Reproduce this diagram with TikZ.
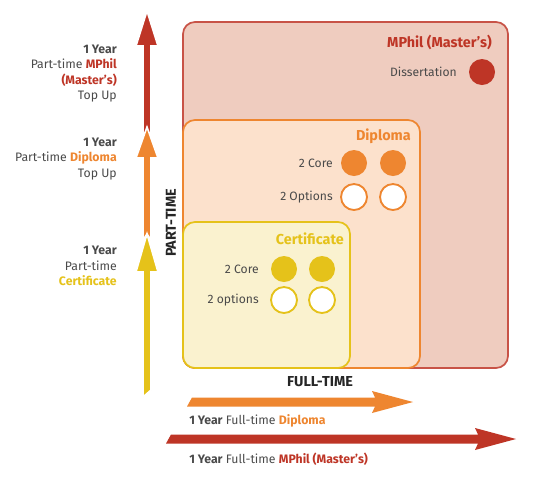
\documentclass[tikz,border=0pt]{standalone}
\usepackage{fontspec}
\setmainfont{Fira Sans}
\begin{document}
\begin{tikzpicture}[x=0.75pt,y=-0.75pt,
  txt/.style={font=\fontsize{9.1}{11}\selectfont, text=greytxt, inner sep=0pt},
  ttl/.style={font=\fontsize{10.8}{12}\selectfont\bfseries, inner sep=0pt},
  axis/.style={font=\fontsize{10.8}{12}\selectfont\bfseries, text=black!85, inner sep=0pt},
  ltxt/.style={txt, anchor=east, align=right, font=\fontsize{9.2}{11.6}\selectfont},
  dot/.style={circle, minimum size=19.5pt, inner sep=0pt, line width=1.4pt},
  arr/.style={draw=white, line width=1.2pt, line join=miter},
]
\definecolor{greytxt}{HTML}{4A4A4A}
\definecolor{cred}{HTML}{BE3526}
\definecolor{corange}{HTML}{EE8630}
\definecolor{cyellow}{HTML}{E5C21A}
\definecolor{fred}{HTML}{EFCCBF}
\definecolor{forange}{HTML}{FCE1CC}
\definecolor{fyellow}{HTML}{FAF2CF}
\useasboundingbox[fill=white] (0,0) rectangle (538,480);

% boxes
\draw[fill=fred, draw=cred!85, line width=1.3pt, rounded corners=9pt] (183,22) rectangle (508,368);
\draw[fill=forange, draw=corange, line width=1.3pt, rounded corners=9pt] (183,120) rectangle (420,368);
\draw[fill=fyellow, draw=cyellow, line width=1.3pt, rounded corners=9pt] (183,222) rectangle (350,368);

% MPhil content
\node[ttl, text=cred, anchor=east] (mphilt) at (492,42) {MPhil (Master’s)};
\node[txt, anchor=east] (diss) at (457,72) {Dissertation};
\node[dot, fill=cred] (dd) at (482,72) {};

% Diploma content
\node[ttl, text=corange, anchor=east] (diplt) at (411,136) {Diploma};
\node[txt, anchor=east] (dcore) at (333,163) {2 Core};
\node[dot, fill=corange] (dc1) at (354,163) {};
\node[dot, fill=corange] (dc2) at (393,163) {};
\node[txt, anchor=east] (dopt) at (333,197) {2 Options};
\node[dot, fill=white, draw=corange] (do1) at (354,197) {};
\node[dot, fill=white, draw=corange] (do2) at (393,197) {};

% Certificate content
\node[ttl, text=cyellow, anchor=east] (certt) at (344,239) {Certificate};
\node[txt, anchor=east] (ccore) at (259,269) {2 Core};
\node[dot, fill=cyellow] (cc1) at (284,269) {};
\node[dot, fill=cyellow] (cc2) at (322,269) {};
\node[txt, anchor=east] (copt) at (259,300) {2 options};
\node[dot, fill=white, draw=cyellow] (co1) at (284,300) {};
\node[dot, fill=white, draw=cyellow] (co2) at (322,300) {};

% axis labels
\node[axis, rotate=90] (pt) at (171,223) {PART-TIME};
\node[axis] (ft) at (320,382) {FULL-TIME};

% vertical arrows
\fill[cred, arr] (147,11) -- (158,46) -- (151,46) -- (151,136) -- (147,130) -- (143,136) -- (143,46) -- (136,46) -- cycle;
\fill[corange, arr] (147,127) -- (158,158) -- (151,158) -- (151,240) -- (147,234) -- (143,240) -- (143,158) -- (136,158) -- cycle;
\fill[cyellow, arr] (147,234) -- (158,272) -- (151,272) -- (151,390) -- (143,397) -- (143,272) -- (136,272) -- cycle;

% left texts
\node[ltxt] (lt1) at (117,73.5)
  {\textbf{1 Year}\\Part-time \textcolor{cred}{\textbf{MPhil}}\\\textcolor{cred}{\textbf{(Master’s)}}\\Top Up};
\node[ltxt] (lt2) at (117,159)
  {\textbf{1 Year}\\Part-time \textcolor{corange}{\textbf{Diploma}}\\Top Up};
\node[ltxt] (lt3) at (117,266)
  {\textbf{1 Year}\\Part-time\\\textcolor{cyellow}{\textbf{Certificate}}};

% horizontal arrows
\fill[corange] (187,406.5) -- (192,397.5) -- (375,397.5) -- (372,391) -- (413,402) -- (372,413) -- (375,406.5) -- cycle;
\fill[cred] (166,443.5) -- (171,434.5) -- (478,434.5) -- (475,428) -- (516,439) -- (475,450) -- (478,443.5) -- cycle;

\node[txt, anchor=west, font=\fontsize{9.2}{11}\selectfont] (bt1) at (189,421) {\textbf{1 Year} Full-time \textcolor{corange}{\textbf{Diploma}}};
\node[txt, anchor=west, font=\fontsize{9.2}{11}\selectfont] (bt2) at (189,459) {\textbf{1 Year} Full-time \textcolor{cred}{\textbf{MPhil (Master’s)}}};
\end{tikzpicture}
\end{document}
